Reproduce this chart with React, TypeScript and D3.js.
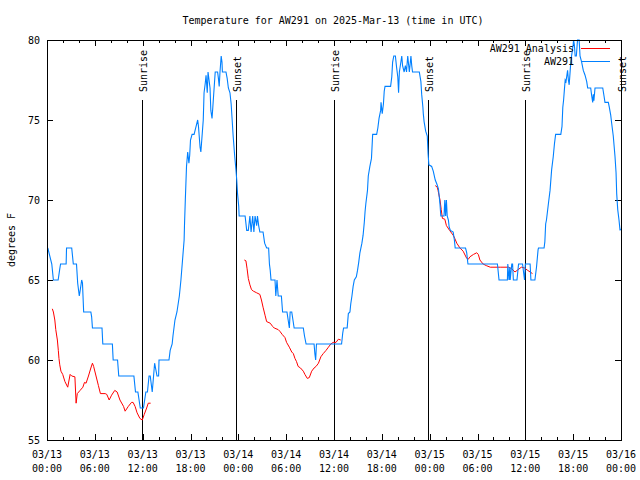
import React from "react";
import * as d3 from "d3";

const W = 640;
const H = 480;
const PLOT = { left: 47, right: 621, top: 40, bottom: 440 };

const title = "Temperature for AW291 on 2025-Mar-13 (time in UTC)";
const yLabel = "degrees F";
const tickHours = [0, 6, 12, 18, 24, 30, 36, 42, 48, 54, 60, 66, 72];
const tickDates = ["03/13", "03/13", "03/13", "03/13", "03/14", "03/14", "03/14", "03/14", "03/15", "03/15", "03/15", "03/15", "03/16"];
const tickTimes = ["00:00", "06:00", "12:00", "18:00", "00:00", "06:00", "12:00", "18:00", "00:00", "06:00", "12:00", "18:00", "00:00"];
const minorTickHours = d3.range(0, 73, 2);
const yTicks = [55, 60, 65, 70, 75, 80];
const sunriseHours = [11.95, 36.0, 59.98];
const sunsetHours = [23.71, 47.85, 71.94];
const seriesNames = ["AW291 Analysis", "AW291"];
const seriesColors = ["#ff0000", "#0080ff"];

// observed AW291 temperatures: [hour since 03/13 00:00 UTC, deg F]
const observed: [number, number][] = [
  [0.1, 67], [0.6, 66], [0.8, 65], [1.4, 65], [1.6, 65.7], [1.7, 66], [2.4, 66], [2.45, 67],
  [3.1, 67], [3.3, 66], [3.7, 66], [3.85, 64.8], [4.05, 64], [4.15, 64.3], [4.35, 65], [4.45, 64.8],
  [4.6, 63], [5.5, 63], [5.6, 62.7], [5.7, 62], [6.9, 62], [7.0, 61], [8.2, 61], [8.3, 60],
  [8.85, 60], [9.0, 59], [10.9, 59], [11.1, 58], [11.4, 58], [11.7, 57], [12.1, 57], [12.25, 57.5],
  [12.4, 58], [12.6, 58], [12.8, 59], [12.95, 59], [13.2, 58], [13.5, 59.8], [13.8, 59], [14.0, 59],
  [14.05, 60], [15.3, 60], [15.45, 60.6], [15.7, 61], [15.8, 61.5], [16.05, 62.5], [16.3, 63],
  [16.6, 64], [16.8, 65], [17.0, 66.25], [17.2, 67.5], [17.25, 68.5], [17.35, 70], [17.5, 72.1],
  [17.65, 73], [17.8, 72.3], [17.9, 72.8], [18.0, 73.75], [18.2, 74.1], [18.45, 74.1], [18.7, 74.6],
  [18.9, 75], [19.0, 74.6], [19.2, 73.3], [19.3, 73], [19.45, 74], [19.6, 75], [19.7, 76.7],
  [19.85, 77.3], [19.95, 77.8], [20.1, 76.7], [20.2, 78], [20.45, 77], [20.55, 75.6], [20.7, 75.1],
  [20.8, 75.8], [21.1, 78], [21.4, 78], [21.5, 77.6], [21.6, 77.1], [21.7, 78], [21.85, 79],
  [21.95, 78.6], [22.0, 78], [22.45, 78], [22.6, 77.6], [22.75, 77], [22.95, 76.7], [23.1, 76],
  [23.2, 75.2], [23.35, 74], [23.55, 72.7], [23.7, 71.9], [23.8, 71.25], [23.9, 70.4], [24.05, 69.6],
  [24.1, 69], [24.85, 69], [25.05, 68.1], [25.25, 68.1], [25.45, 69], [25.6, 68], [25.8, 69],
  [25.95, 68], [26.1, 69], [26.3, 68.4], [26.4, 69], [26.55, 68.4], [26.7, 68], [27.1, 68],
  [27.3, 67.3], [27.55, 67], [27.8, 67], [27.9, 66], [28.0, 65.6], [28.1, 65], [28.6, 65],
  [28.7, 64], [28.85, 65], [29.0, 64], [29.4, 64], [29.55, 63], [30.1, 63], [30.25, 62.5],
  [30.4, 62], [30.5, 63], [30.7, 63], [30.85, 62.5], [31.0, 62], [32.15, 62], [32.3, 61.5],
  [32.5, 61], [33.5, 61], [33.6, 60.4], [33.7, 60], [33.8, 61], [36.95, 61], [37.1, 61.7],
  [37.2, 62], [37.65, 62], [37.8, 62.9], [38.0, 63], [38.1, 63.5], [38.25, 64], [38.4, 64.6],
  [38.55, 65], [38.8, 65.2], [38.95, 65.6], [39.1, 66.1], [39.25, 66.7], [39.5, 67.3], [39.65, 67.8],
  [39.8, 68.6], [39.9, 69.3], [40.0, 69.8], [40.2, 70.6], [40.3, 71.5], [40.5, 72.1], [40.7, 72.6],
  [40.85, 74.1], [41.35, 74.1], [41.5, 74.5], [41.65, 75.1], [41.85, 75.6], [41.9, 76.1], [42.05, 75.4],
  [42.2, 76], [42.3, 76.8], [42.4, 77.1], [43.1, 77.1], [43.25, 77.7], [43.35, 78.6], [43.5, 79],
  [43.7, 79], [43.85, 78.3], [44.0, 77.7], [44.1, 76.7], [44.2, 78], [44.35, 78.5], [44.5, 79],
  [44.6, 78.4], [44.8, 78], [44.95, 78.4], [45.1, 78], [45.15, 78.4], [45.25, 79], [45.35, 78.5],
  [45.45, 78], [45.55, 78.5], [45.65, 79], [45.75, 78.4], [45.85, 78], [46.7, 78], [46.9, 77.4],
  [47.0, 76.6], [47.15, 75.8], [47.2, 75.4], [47.3, 74.9], [47.5, 74.3], [47.7, 74], [47.8, 72.9],
  [47.9, 72.2], [48.25, 72.1], [48.45, 71.8], [48.7, 71.25], [48.9, 71], [49.1, 70.7], [49.2, 70.2],
  [49.3, 69.7], [49.4, 69], [49.8, 69], [49.9, 70], [50.0, 69], [50.1, 70], [50.2, 69],
  [50.35, 68.75], [50.45, 68.3], [50.6, 68.1], [50.95, 68], [51.1, 67.5], [51.2, 67], [52.5, 67],
  [52.65, 66.7], [52.8, 66], [56.5, 66], [56.7, 65], [57.75, 65], [57.8, 66], [57.95, 65],
  [58.05, 65.8], [58.1, 65], [58.3, 66], [58.4, 66], [58.5, 65], [58.95, 65], [59.15, 66],
  [59.65, 66], [59.9, 65], [60.0, 66], [60.6, 66], [60.7, 65], [61.2, 65], [61.4, 65.8],
  [61.6, 66.9], [61.65, 67], [62.35, 67], [62.45, 67.4], [62.55, 68.5], [62.65, 68.75], [62.9, 69.8],
  [63.1, 70.6], [63.3, 71.9], [63.5, 72.7], [63.65, 73.5], [63.8, 74.1], [64.45, 74.1], [64.6, 74.6],
  [64.7, 75.8], [64.8, 76.25], [64.9, 76.9], [65.0, 77.5], [65.1, 77.4], [65.3, 78.1], [65.4, 77.5],
  [65.5, 77.2], [65.6, 77.9], [65.7, 78.6], [65.8, 79], [66.0, 79.7], [66.05, 80], [66.15, 79.7],
  [66.25, 79], [66.4, 79], [66.5, 79.7], [66.55, 80], [66.75, 80], [66.86, 79], [67.07, 78.6],
  [67.27, 78.1], [67.49, 77.8], [67.7, 77.4], [67.82, 77], [68.2, 77], [68.3, 76.6], [68.45, 76.1],
  [68.53, 76.6], [68.6, 76.2], [68.74, 77], [69.71, 77], [69.87, 76.5], [69.99, 76.1], [70.41, 76.1],
  [70.53, 75.8], [70.71, 75.3], [70.83, 74.8], [71.03, 74], [71.25, 72.7], [71.38, 71.7],
  [71.46, 70.4], [71.59, 69.4], [71.75, 68.75], [71.88, 68.1], [71.95, 68.2],
];

// analysis temperatures, three overnight segments
const analysisNight1: [number, number][] = [
  [0.67, 63.2], [0.8, 63.0], [0.98, 62.5], [1.1, 61.9], [1.3, 61.25], [1.42, 60.6], [1.5, 60.1],
  [1.6, 59.7], [1.75, 59.3], [1.97, 59.1], [2.25, 58.65], [2.6, 58.3], [2.9, 59.1], [3.1, 59.0],
  [3.5, 58.95], [3.65, 57.3], [3.8, 57.9], [4.15, 58.1], [4.5, 58.3], [4.7, 58.6], [4.9, 58.55],
  [5.2, 59.0], [5.5, 59.5], [5.7, 59.8], [5.85, 59.6], [6.15, 59.0], [6.45, 58.4], [6.7, 57.9],
  [7.3, 57.9], [7.5, 57.85], [7.8, 57.5], [8.1, 57.8], [8.5, 58.1], [8.8, 58.0], [9.15, 57.5],
  [9.6, 57.1], [9.8, 56.8], [10.2, 57.1], [10.6, 57.35], [10.8, 57.35], [11.05, 57.1], [11.3, 56.7],
  [11.65, 56.35], [11.95, 56.25], [12.2, 56.6], [12.5, 57.0], [12.7, 57.3], [13.0, 57.3],
];
const analysisNight2: [number, number][] = [
  [24.75, 66.25], [24.95, 66.2], [25.1, 65.7], [25.25, 65.1], [25.45, 64.7], [25.65, 64.4],
  [25.9, 64.3], [26.3, 64.2], [26.7, 64.1], [26.9, 63.75], [27.1, 63.3], [27.35, 62.8], [27.55, 62.4],
  [28.0, 62.3], [28.3, 62.1], [28.5, 62.0], [29.0, 61.9], [29.2, 61.8], [29.5, 61.6], [29.85, 61.4],
  [30.05, 61.1], [30.4, 60.8], [30.7, 60.5], [30.9, 60.4], [31.1, 60.1], [31.3, 59.9], [31.5, 59.6],
  [31.8, 59.5], [32.15, 59.3], [32.35, 59.1], [32.65, 58.85], [32.9, 58.9], [33.2, 59.3], [33.5, 59.5],
  [33.75, 59.6], [34.05, 59.8], [34.35, 60.2], [34.65, 60.4], [35.0, 60.6], [35.3, 60.8], [35.6, 61.0],
  [35.9, 61.1], [36.25, 61.1], [36.55, 61.3], [36.85, 61.25],
];
const analysisNight3: [number, number][] = [
  [48.7, 70.9], [48.95, 70.8], [49.05, 70.6], [49.3, 70.0], [49.45, 69.4], [49.6, 68.85], [49.9, 68.8],
  [50.1, 68.4], [50.5, 68.1], [50.95, 67.8], [51.15, 67.6], [51.4, 67.3], [51.8, 67.0], [52.2, 66.8],
  [52.65, 66.35], [52.85, 66.3], [53.05, 66.45], [53.5, 66.6], [53.9, 66.7], [54.1, 66.6], [54.3, 66.25],
  [54.7, 66.0], [55.1, 65.9], [55.6, 65.8], [56.85, 65.8], [57.9, 65.8], [58.3, 65.7], [58.7, 65.5],
  [59.1, 65.65], [59.5, 65.8], [59.9, 65.75], [60.3, 65.6], [60.9, 65.4],
];

const FONT = "'DejaVu Sans Mono', 'Liberation Mono', monospace";

export default function App() {
  const x = d3.scaleLinear().domain([0, 72]).range([PLOT.left, PLOT.right]);
  const y = d3.scaleLinear().domain([55, 80]).range([PLOT.bottom, PLOT.top]);
  const line = d3
    .line<[number, number]>()
    .x((d) => x(d[0]))
    .y((d) => y(d[1]));

  const analysis = [analysisNight1, analysisNight2, analysisNight3];
  const c = (v: number) => Math.round(v) + 0.5;

  return (
    <svg width={W} height={H} style={{ display: "block", position: "absolute", left: 0, top: 0 }} fontFamily={FONT} fontSize={10}>
      <rect x={0} y={0} width={W} height={H} fill="#fff" />
      <defs>
        <clipPath id="plotClip">
          <rect x={PLOT.left} y={PLOT.top - 1} width={PLOT.right - PLOT.left + 1} height={PLOT.bottom - PLOT.top + 2} />
        </clipPath>
      </defs>
      <text x={333} y={24} textAnchor="middle" fill="#000">{title}</text>
      <text transform={`translate(15,240) rotate(-90)`} textAnchor="middle" fill="#000">{yLabel}</text>

      {/* y ticks */}
      {yTicks.map((t) => (
        <g key={"y" + t}>
          <line x1={PLOT.left} x2={PLOT.left + 6} y1={c(y(t))} y2={c(y(t))} stroke="#000" shapeRendering="crispEdges" />
          <line x1={PLOT.right - 6} x2={PLOT.right} y1={c(y(t))} y2={c(y(t))} stroke="#000" shapeRendering="crispEdges" />
          <text x={40} y={y(t) + 4} textAnchor="end" fill="#000">{t}</text>
        </g>
      ))}
      {/* minor x ticks */}
      {minorTickHours.map((h) => (
        <g key={"mx" + h}>
          <line x1={c(x(h))} x2={c(x(h))} y1={PLOT.bottom} y2={PLOT.bottom - 3} stroke="#000" shapeRendering="crispEdges" />
          <line x1={c(x(h))} x2={c(x(h))} y1={PLOT.top} y2={PLOT.top + 3} stroke="#000" shapeRendering="crispEdges" />
        </g>
      ))}
      {/* major x ticks */}
      {tickHours.map((h, i) => (
        <g key={"x" + h}>
          <line x1={c(x(h))} x2={c(x(h))} y1={PLOT.bottom} y2={PLOT.bottom - 6} stroke="#000" shapeRendering="crispEdges" />
          <line x1={c(x(h))} x2={c(x(h))} y1={PLOT.top} y2={PLOT.top + 6} stroke="#000" shapeRendering="crispEdges" />
          <text x={x(h)} y={458} textAnchor="middle" fill="#000">{tickDates[i]}</text>
          <text x={x(h)} y={472} textAnchor="middle" fill="#000">{tickTimes[i]}</text>
        </g>
      ))}

      {/* sunrise / sunset markers */}
      {sunriseHours.map((h) => (
        <g key={"sr" + h}>
          <line x1={c(x(h))} x2={c(x(h))} y1={100} y2={PLOT.bottom} stroke="#000" shapeRendering="crispEdges" />
          <text transform={`translate(${x(h) + 5},92) rotate(-90)`} fill="#000">Sunrise</text>
        </g>
      ))}
      {sunsetHours.map((h) => (
        <g key={"ss" + h}>
          <line x1={c(x(h))} x2={c(x(h))} y1={100} y2={PLOT.bottom} stroke="#000" shapeRendering="crispEdges" />
          <text transform={`translate(${x(h) + 5},92) rotate(-90)`} fill="#000">Sunset</text>
        </g>
      ))}

      <g clipPath="url(#plotClip)">
        {analysis.map((seg, i) => (
          <path key={"a" + i} d={line(seg) || ""} fill="none" stroke={seriesColors[0]} strokeWidth={1} />
        ))}
        <path d={line(observed) || ""} fill="none" stroke={seriesColors[1]} strokeWidth={1.1} />
      </g>

      {/* legend */}
      {seriesNames.map((name, i) => (
        <g key={"leg" + i}>
          <text x={574} y={52 + i * 13} textAnchor="end" fill="#000">{name}</text>
          <line x1={581} x2={610} y1={c(48 + i * 13)} y2={c(48 + i * 13)} stroke={seriesColors[i]} shapeRendering="crispEdges" />
        </g>
      ))}

      <rect x={PLOT.left + 0.5} y={PLOT.top + 0.5} width={PLOT.right - PLOT.left} height={PLOT.bottom - PLOT.top} fill="none" stroke="#000" shapeRendering="crispEdges" />
    </svg>
  );
}
